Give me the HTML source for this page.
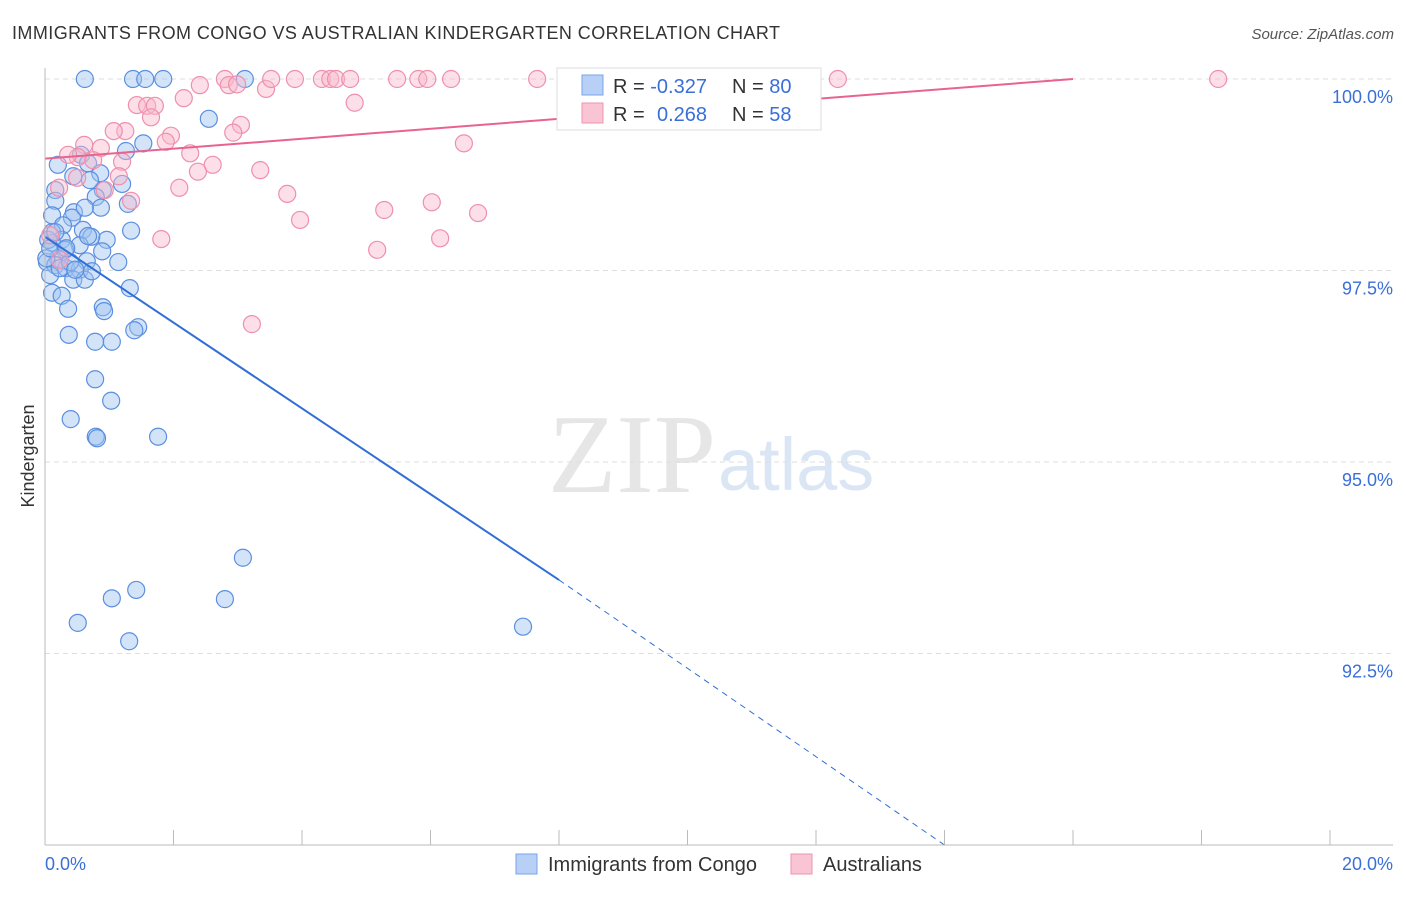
<!DOCTYPE html>
<html><head><meta charset="utf-8"><style>
body{margin:0;background:#fff;font-family:"Liberation Sans",sans-serif}
</style></head><body>
<svg id="c" width="1406" height="892" xmlns="http://www.w3.org/2000/svg">
<text x="12" y="39" font-size="18" fill="#333" textLength="768">IMMIGRANTS FROM CONGO VS AUSTRALIAN KINDERGARTEN CORRELATION CHART</text>
<text x="1394" y="39" font-size="15" fill="#555" font-style="italic" text-anchor="end">Source: ZipAtlas.com</text>
<text x="716" y="492" font-size="112" fill="#e6e6e6" text-anchor="end" font-family="Liberation Serif">ZIP</text>
<text x="718" y="490" font-size="74" fill="#dbe6f5">atlas</text>
<g id="grid"></g><g id="pts"></g><g id="lines"></g>
<line x1="45" y1="68" x2="45" y2="845" stroke="#bbb"/>
<line x1="45" y1="845" x2="1393" y2="845" stroke="#bbb"/>
<text x="45" y="870" font-size="18" fill="#3a6fd8">0.0%</text>
<text x="1393" y="870" font-size="18" fill="#3a6fd8" text-anchor="end">20.0%</text>
<text transform="translate(34,456) rotate(-90)" font-size="18" fill="#333" text-anchor="middle">Kindergarten</text>
<g>
<rect x="557" y="68" width="264" height="62" fill="#fff" stroke="#ddd"/>
<rect x="582" y="75" width="21" height="20" fill="#b8d0f5" stroke="#7aa5e8"/>
<rect x="582" y="103" width="21" height="20" fill="#f9c4d3" stroke="#ef93ae"/>
<text x="613" y="93" font-size="20" fill="#333">R = <tspan fill="#3a6fd8">-0.327</tspan><tspan x="732">N = </tspan><tspan fill="#3a6fd8">80</tspan></text>
<text x="613" y="121" font-size="20" fill="#333">R = <tspan fill="#3a6fd8" x="657">0.268</tspan><tspan x="732">N = </tspan><tspan fill="#3a6fd8">58</tspan></text>
</g>
<g>
<rect x="516" y="854" width="21" height="20" fill="#b8d0f5" stroke="#7aa5e8"/>
<text x="548" y="871" font-size="20" fill="#333">Immigrants from Congo</text>
<rect x="791" y="854" width="21" height="20" fill="#f9c4d3" stroke="#ef93ae"/>
<text x="823" y="871" font-size="20" fill="#333">Australians</text>
</g>
</svg>
<script>
const yTicks=[100,97.5,95,92.5];
const yTickLabels=["100.0%","97.5%","95.0%","92.5%"];
const xTicks=[0,2,4,6,8,10,12,14,16,18,20];
const bluePx=[[85,79],[133,79],[145,79],[163,79],[245,79],[209,119],[143,143],[126,151],[103,190],[81,155],[88,163],[58,165],[100,173],[73,176],[90,180],[122,184],[55,190],[96,197],[128,204],[55,201],[74,212],[101,208],[52,215],[72,218],[63,225],[83,230],[131,231],[52,232],[107,240],[62,240],[91,237],[80,245],[52,243],[65,250],[102,251],[58,258],[87,261],[47,262],[55,265],[66,268],[80,270],[50,275],[73,280],[85,280],[130,288],[52,293],[62,296],[103,307],[68,309],[104,311],[138,327],[134,330],[69,335],[95,342],[112,342],[95,379],[111,401],[71,419],[96,437],[97,438],[158,437],[243,558],[136,590],[112,598],[225,599],[78,623],[129,641],[523,627],[46,258],[48,240],[55,232],[60,268],[70,262],[75,270],[88,236],[92,271],[50,248],[66,248],[118,262],[85,208]];
const pinkPx=[[184,98],[137,105],[147,106],[155,106],[151,117],[200,85],[225,79],[229,85],[237,84],[266,89],[271,79],[295,79],[322,79],[330,79],[336,79],[350,79],[397,79],[418,79],[427,79],[451,79],[537,79],[838,79],[1218,79],[355,103],[171,136],[166,142],[241,125],[233,133],[125,131],[114,131],[84,145],[101,148],[78,157],[93,160],[122,162],[190,153],[213,165],[198,172],[260,170],[119,176],[77,178],[179,188],[59,188],[287,194],[131,201],[300,220],[384,210],[432,202],[478,213],[161,239],[377,250],[440,238],[252,324],[464,143],[68,155],[50,235],[60,260],[105,190]];
const congoX=bluePx.map(p=>+((p[0]-45)/1285*20).toFixed(2));
const congoY=bluePx.map(p=>+(100-(p[1]-79)/191.5*2.5).toFixed(2));
const ausX=pinkPx.map(p=>+((p[0]-45)/1285*20).toFixed(2));
const ausY=pinkPx.map(p=>+(100-(p[1]-79)/191.5*2.5).toFixed(2));
const congoTrend=[[0,97.94],[8,93.46],[14,90]];
const ausTrend=[[0,98.96],[16,100]];
const X=v=>45+v/20*1285, Y=v=>79+(100-v)/2.5*191.5;
const ns="http://www.w3.org/2000/svg";
function mk(t,a,p){const e=document.createElementNS(ns,t);for(const k in a)e.setAttribute(k,a[k]);p.appendChild(e);return e;}
const g=document.getElementById('grid');
yTicks.forEach((v,i)=>{
 const l=mk('line',{x1:45,x2:1393,y1:Y(v),y2:Y(v),stroke:'#ddd','stroke-dasharray':'5,4'},g);
 
 
 const t=mk('text',{x:1393,y:Y(v)+24,'font-size':18,fill:'#3a6fd8','text-anchor':'end'},g);
 t.textContent=yTickLabels[i];
 
 
});
xTicks.forEach(v=>{
 const l=mk('line',{x1:X(v),x2:X(v),y1:830,y2:845,stroke:'#bbb'},g);
 
 
});
const pg=document.getElementById('pts');
congoX.forEach((x,i)=>{
 const c=mk('circle',{cx:X(x),cy:Y(congoY[i]),r:8.5,fill:'rgba(160,195,240,0.45)',stroke:'#5b8fe0','stroke-width':1.2},pg);
 
 
});
ausX.forEach((x,i)=>{
 const c=mk('circle',{cx:X(x),cy:Y(ausY[i]),r:8.5,fill:'rgba(248,185,205,0.45)',stroke:'#ee90ad','stroke-width':1.2},pg);
 
 
});
const lg=document.getElementById('lines');
let a=congoTrend;
let l1=mk('line',{x1:X(a[0][0]),y1:Y(a[0][1]),x2:X(a[1][0]),y2:Y(a[1][1]),stroke:'#2f6fd6','stroke-width':2},lg);


let l2=mk('line',{x1:X(a[1][0]),y1:Y(a[1][1]),x2:X(a[2][0]),y2:Y(a[2][1]),stroke:'#2f6fd6','stroke-width':1,'stroke-dasharray':'6,5'},lg);


a=ausTrend;
let l3=mk('line',{x1:X(a[0][0]),y1:Y(a[0][1]),x2:X(a[1][0]),y2:Y(a[1][1]),stroke:'#e8638e','stroke-width':2},lg);


</script>
</body></html>
